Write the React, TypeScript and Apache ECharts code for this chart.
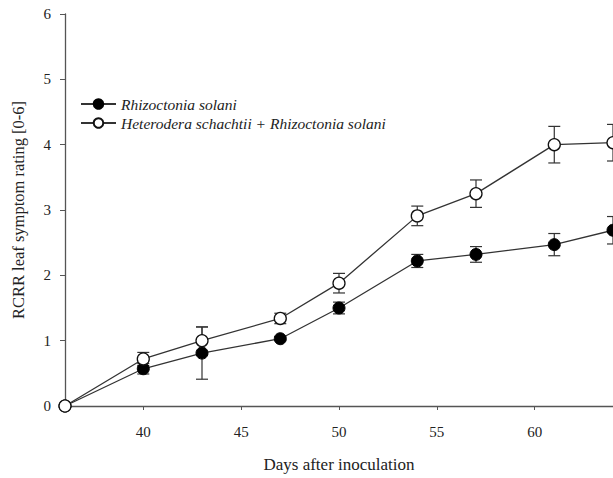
import React, { useEffect, useRef } from "react";
import * as echarts from "echarts";

const days = [36, 40, 43, 47, 50, 54, 57, 61, 64];
const rsMean = [0, 0.57, 0.81, 1.03, 1.5, 2.22, 2.32, 2.47, 2.69];
const rsErr = [0, 0.08, 0.4, 0.03, 0.09, 0.1, 0.12, 0.17, 0.21];
const hsMean = [0, 0.72, 1.0, 1.34, 1.88, 2.91, 3.25, 4.0, 4.03];
const hsErr = [0, 0.1, 0.21, 0.08, 0.15, 0.15, 0.21, 0.28, 0.28];
const xTicks = [40, 45, 50, 55, 60];
const seriesNames = ["Rhizoctonia solani", "Heterodera schachtii + Rhizoctonia solani"];

const FONT = "Liberation Serif";
const INK = "#222";

function errorSeries(mean: number[], err: number[], z: number) {
  return {
    type: "custom",
    z,
    silent: true,
    data: days.map((d, i) => [d, mean[i], err[i]]),
    encode: { x: 0, y: 1 },
    renderItem: (params: any, api: any) => {
      const x = api.value(0);
      const y = api.value(1);
      const e = api.value(2);
      if (!e) return null;
      const top = api.coord([x, y + e]);
      const bot = api.coord([x, y - e]);
      const w = 6;
      const style = { stroke: "#333", lineWidth: 1.2 };
      return {
        type: "group",
        children: [
          { type: "line", shape: { x1: top[0], y1: top[1], x2: bot[0], y2: bot[1] }, style },
          { type: "line", shape: { x1: top[0] - w, y1: top[1], x2: top[0] + w, y2: top[1] }, style },
          { type: "line", shape: { x1: bot[0] - w, y1: bot[1], x2: bot[0] + w, y2: bot[1] }, style },
        ],
      };
    },
  };
}

export default function App() {
  const ref = useRef<HTMLDivElement>(null);
  useEffect(() => {
    if (!ref.current) return;
    const chart = echarts.init(ref.current, undefined, { renderer: "svg" });
    chart.setOption({
      animation: false,
      backgroundColor: "#ffffff",
      grid: { left: 65, top: 14, width: 551, height: 397, containLabel: false },
      legend: {
        data: seriesNames,
        orient: "vertical",
        left: 75,
        top: 91,
        itemWidth: 35,
        itemHeight: 12,
        itemGap: 3,
        textStyle: { fontFamily: FONT, fontStyle: "italic", fontSize: 15.5, color: INK },
      },
      xAxis: {
        type: "value",
        min: 36,
        max: 64,
        name: "Days after inoculation",
        nameLocation: "middle",
        nameGap: 50,
        nameTextStyle: { fontFamily: FONT, fontSize: 17, color: INK },
        axisLine: { show: true, lineStyle: { color: "#555", width: 1.3 } },
        axisTick: { show: true, length: 4, customValues: xTicks, lineStyle: { color: "#555" } },
        axisLabel: { customValues: xTicks, fontFamily: FONT, fontSize: 15, color: INK, margin: 18 },
        splitLine: { show: false },
      },
      yAxis: {
        type: "value",
        min: 0,
        max: 6,
        interval: 1,
        name: "RCRR leaf symptom rating [0-6]",
        nameLocation: "middle",
        nameGap: 38,
        nameTextStyle: { fontFamily: FONT, fontSize: 16.5, color: INK },
        axisLine: { show: true, lineStyle: { color: "#555", width: 1.3 } },
        axisTick: { show: true, length: 5, lineStyle: { color: "#555" } },
        axisLabel: { fontFamily: FONT, fontSize: 15, color: INK, margin: 14 },
        splitLine: { show: false },
      },
      series: [
        errorSeries(rsMean, rsErr, 1),
        errorSeries(hsMean, hsErr, 1),
        {
          name: seriesNames[0],
          type: "line",
          z: 3,
          data: days.map((d, i) => [d, rsMean[i]]),
          symbol: "circle",
          symbolSize: 12,
          lineStyle: { color: "#333", width: 1.3 },
          itemStyle: { color: "#000", borderColor: "#000", borderWidth: 1 },
          clip: false,
        },
        {
          name: seriesNames[1],
          type: "line",
          z: 4,
          data: days.map((d, i) => [d, hsMean[i]]),
          symbol: "circle",
          symbolSize: 12,
          lineStyle: { color: "#333", width: 1.3 },
          itemStyle: { color: "#fff", borderColor: "#111", borderWidth: 1.3 },
          clip: false,
        },
      ],
    });
    return () => chart.dispose();
  }, []);
  return (
    <div
      ref={ref}
      style={{ position: "fixed", left: 0, top: 0, width: 613, height: 478, background: "#fff" }}
    />
  );
}
